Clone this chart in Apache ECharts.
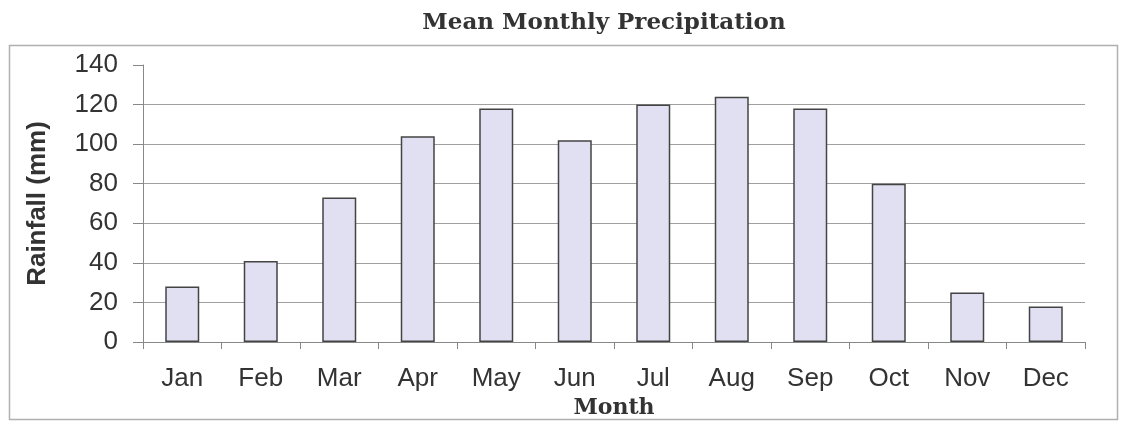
<!DOCTYPE html>
<html>
<head>
<meta charset="utf-8">
<script src="https://cdn.jsdelivr.net/npm/echarts@6/dist/echarts.min.js"></script>
<style>
html, body { margin: 0; padding: 0; background: #ffffff; }
#chart { width: 1125px; height: 424px; }
</style>
</head>
<body>
<div id="chart"></div>
<script>
const months = ['Jan', 'Feb', 'Mar', 'Apr', 'May', 'Jun', 'Jul', 'Aug', 'Sep', 'Oct', 'Nov', 'Dec'];
const rainfall = [28, 41, 73, 104, 118, 102, 120, 124, 118, 80, 25, 18];
const chartTitle = 'Mean Monthly Precipitation';
const xName = 'Month';
const yName = 'Rainfall (mm)';

const chart = echarts.init(document.getElementById('chart'), null, { renderer: 'canvas' });
chart.setOption({
  backgroundColor: '#ffffff',
  animation: false,
  title: {
    text: chartTitle,
    left: 599,
    top: 7,
    textAlign: 'center',
    textStyle: { fontFamily: 'DejaVu Serif', fontWeight: 'bold', fontSize: 23, color: '#333333' }
  },
  graphic: [{
    type: 'rect',
    shape: { x: 9.5, y: 45.5, width: 1108, height: 374 },
    style: { fill: 'none', stroke: '#b0b0b0', lineWidth: 1.5 },
    silent: true,
    z: -1
  }],
  grid: { left: 143, right: 40, top: 65, bottom: 81 },
  xAxis: {
    type: 'category',
    data: months,
    name: xName,
    nameLocation: 'middle',
    nameGap: 55,
    nameTextStyle: { fontFamily: 'DejaVu Serif', fontWeight: 'bold', fontSize: 22, color: '#333333' },
    axisLine: { lineStyle: { color: '#888888', width: 1 } },
    axisTick: { show: true, length: 7, alignWithLabel: false, lineStyle: { color: '#888888' } },
    axisLabel: { margin: 24, fontFamily: 'Liberation Sans', fontSize: 26, color: '#333333' }
  },
  yAxis: {
    type: 'value',
    min: 0,
    max: 140,
    interval: 20,
    name: yName,
    nameLocation: 'middle',
    nameGap: 92,
    nameTextStyle: { fontFamily: 'Liberation Sans', fontWeight: 'bold', fontSize: 26, color: '#333333' },
    axisLine: { show: true, lineStyle: { color: '#888888', width: 1 } },
    axisTick: { show: true, length: 10, lineStyle: { color: '#888888' } },
    axisLabel: { margin: 25, fontFamily: 'Liberation Sans', fontSize: 26, color: '#333333' },
    splitLine: { show: true, showMaxLine: false, showMinLine: false, lineStyle: { color: '#a0a0a0', width: 1.2 } }
  },
  series: [{
    type: 'bar',
    data: rainfall,
    barWidth: 34,
    itemStyle: { color: '#e0e0f2', borderColor: '#444444', borderWidth: 1.5 }
  }]
});
</script>
</body>
</html>
